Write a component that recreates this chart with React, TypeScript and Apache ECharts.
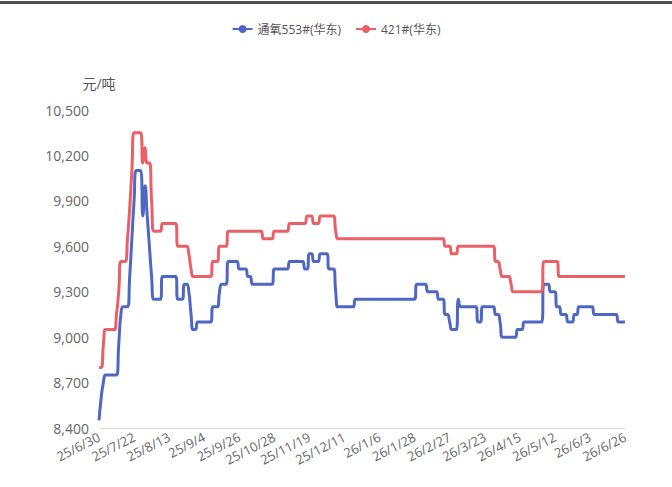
import React, { useEffect, useRef } from "react";
import * as echarts from "echarts";

const seriesNames = ["通氧553#(华东)", "421#(华东)"];

// trading-day calendar used for the category axis
const startDate = "2025-06-30";
const endDate = "2026-06-26";
const holidays = [
  "2025-10-01", "2025-10-02", "2025-10-03", "2025-10-06", "2025-10-07", "2025-10-08",
  "2026-01-01", "2026-01-02",
  "2026-02-16", "2026-02-17", "2026-02-18", "2026-02-19", "2026-02-20", "2026-02-23",
  "2026-04-06",
  "2026-05-01", "2026-05-04", "2026-05-05",
  "2026-06-19",
];

function buildCategories(): string[] {
  const out: string[] = [];
  const d = new Date(startDate + "T00:00:00Z");
  const end = new Date(endDate + "T00:00:00Z");
  while (d <= end) {
    const dow = d.getUTCDay();
    const iso = d.toISOString().slice(0, 10);
    if (dow !== 0 && dow !== 6 && holidays.indexOf(iso) < 0) {
      out.push(`${String(d.getUTCFullYear()).slice(2)}/${d.getUTCMonth() + 1}/${d.getUTCDate()}`);
    }
    d.setUTCDate(d.getUTCDate() + 1);
  }
  return out;
}
const categories = buildCategories();

const oxy553 = [
  8450, 8600, 8700, 8750, 8750, 8750, 8750, 8750, 8750, 8950,
  9150, 9200, 9200, 9200, 9400, 9650, 9900, 10100, 10100, 10100,
  9800, 10000, 9800, 9600, 9400, 9250, 9250, 9250, 9250, 9400,
  9400, 9400, 9400, 9400, 9400, 9400, 9250, 9250, 9250, 9350,
  9350, 9300, 9150, 9050, 9050, 9100, 9100, 9100, 9100, 9100,
  9100, 9100, 9200, 9200, 9200, 9300, 9350, 9350, 9350, 9500,
  9500, 9500, 9500, 9500, 9450, 9450, 9450, 9450, 9400, 9400,
  9350, 9350, 9350, 9350, 9350, 9350, 9350, 9350, 9350, 9350,
  9450, 9450, 9450, 9450, 9450, 9450, 9450, 9500, 9500, 9500,
  9500, 9500, 9500, 9500, 9450, 9450, 9550, 9550, 9500, 9500,
  9500, 9550, 9550, 9550, 9550, 9450, 9450, 9450, 9300, 9200,
  9200, 9200, 9200, 9200, 9200, 9200, 9200, 9250, 9250, 9250,
  9250, 9250, 9250, 9250, 9250, 9250, 9250, 9250, 9250, 9250,
  9250, 9250, 9250, 9250, 9250, 9250, 9250, 9250, 9250, 9250,
  9250, 9250, 9250, 9250, 9250, 9350, 9350, 9350, 9350, 9350,
  9300, 9300, 9300, 9300, 9300, 9250, 9250, 9250, 9150, 9150,
  9100, 9050, 9050, 9050, 9250, 9200, 9200, 9200, 9200, 9200,
  9200, 9200, 9200, 9100, 9100, 9200, 9200, 9200, 9200, 9200,
  9200, 9150, 9150, 9100, 9000, 9000, 9000, 9000, 9000, 9000,
  9000, 9050, 9050, 9050, 9100, 9100, 9100, 9100, 9100, 9100,
  9100, 9100, 9100, 9350, 9350, 9350, 9300, 9300, 9300, 9200,
  9200, 9150, 9150, 9150, 9100, 9100, 9100, 9150, 9150, 9200,
  9200, 9200, 9200, 9200, 9200, 9200, 9150, 9150, 9150, 9150,
  9150, 9150, 9150, 9150, 9150, 9150, 9150, 9100, 9100, 9100,
  9100,
];

const grade421 = [
  8800, 8800, 8950, 9050, 9050, 9050, 9050, 9050, 9150, 9300,
  9500, 9500, 9500, 9650, 9850, 10100, 10350, 10350, 10350, 10350,
  10150, 10250, 10150, 10150, 9900, 9700, 9700, 9700, 9700, 9750,
  9750, 9750, 9750, 9750, 9750, 9750, 9600, 9600, 9600, 9600,
  9600, 9550, 9450, 9400, 9400, 9400, 9400, 9400, 9400, 9400,
  9400, 9400, 9500, 9500, 9500, 9600, 9600, 9600, 9600, 9700,
  9700, 9700, 9700, 9700, 9700, 9700, 9700, 9700, 9700, 9700,
  9700, 9700, 9700, 9700, 9700, 9650, 9650, 9650, 9650, 9650,
  9700, 9700, 9700, 9700, 9700, 9700, 9700, 9750, 9750, 9750,
  9750, 9750, 9750, 9750, 9750, 9800, 9800, 9800, 9750, 9750,
  9750, 9800, 9800, 9800, 9800, 9800, 9800, 9800, 9700, 9650,
  9650, 9650, 9650, 9650, 9650, 9650, 9650, 9650, 9650, 9650,
  9650, 9650, 9650, 9650, 9650, 9650, 9650, 9650, 9650, 9650,
  9650, 9650, 9650, 9650, 9650, 9650, 9650, 9650, 9650, 9650,
  9650, 9650, 9650, 9650, 9650, 9650, 9650, 9650, 9650, 9650,
  9650, 9650, 9650, 9650, 9650, 9650, 9650, 9650, 9600, 9600,
  9600, 9550, 9550, 9550, 9600, 9600, 9600, 9600, 9600, 9600,
  9600, 9600, 9600, 9600, 9600, 9600, 9600, 9600, 9600, 9600,
  9600, 9500, 9500, 9450, 9400, 9400, 9400, 9400, 9350, 9300,
  9300, 9300, 9300, 9300, 9300, 9300, 9300, 9300, 9300, 9300,
  9300, 9300, 9300, 9500, 9500, 9500, 9500, 9500, 9500, 9500,
  9400, 9400, 9400, 9400, 9400, 9400, 9400, 9400, 9400, 9400,
  9400, 9400, 9400, 9400, 9400, 9400, 9400, 9400, 9400, 9400,
  9400, 9400, 9400, 9400, 9400, 9400, 9400, 9400, 9400, 9400,
  9400,
];

const yMin = 8400;
const yMax = 10500;
const yInterval = 300;
const yUnit = "元/吨";

const colors = ["#4f67c4", "#eb5f66"];

export default function App() {
  const ref = useRef<HTMLDivElement>(null);
  useEffect(() => {
    document.body.style.margin = "0";
    const chart = echarts.init(ref.current!, null, { renderer: "svg" });
    chart.setOption({
      animation: false,
      backgroundColor: "#ffffff",
      color: colors,
      textStyle: { fontFamily: "'Open Sans', 'Noto Sans CJK SC', sans-serif" },
      graphic: [
        {
          type: "rect",
          left: 0,
          top: 1,
          shape: { width: 672, height: 3 },
          style: { fill: "#505050" },
        },
      ],
      legend: {
        top: 18,
        left: "center",
        itemWidth: 20,
        itemHeight: 10,
        itemGap: 14,
        textStyle: { color: "#555", fontSize: 12 },
        data: seriesNames,
      },
      grid: { left: 99, right: 47, top: 110, bottom: 59, containLabel: false },
      xAxis: {
        type: "category",
        boundaryGap: false,
        data: categories,
        axisLine: { lineStyle: { color: "#dcdcdc" } },
        axisTick: { show: false },
        axisLabel: {
          interval: 15,
          rotate: 27,
          color: "#666",
          fontSize: 13,
          margin: 8,
        },
        splitLine: { show: false },
      },
      yAxis: {
        type: "value",
        min: yMin,
        max: yMax,
        interval: yInterval,
        name: yUnit,
        nameLocation: "end",
        nameGap: 20,
        nameTextStyle: { color: "#555", fontSize: 14, align: "center" },
        axisLine: { show: false },
        axisTick: { show: false },
        splitLine: { show: false },
        axisLabel: {
          color: "#666",
          fontSize: 14,
          margin: 10,
          formatter: (v: number) => v.toLocaleString("en-US"),
        },
      },
      series: [
        {
          name: seriesNames[0],
          type: "line",
          data: oxy553,
          smooth: 0.55,
          showSymbol: false,
          symbol: "circle",
          symbolSize: 6,
          lineStyle: { width: 3, color: colors[0] },
          itemStyle: { color: colors[0] },
        },
        {
          name: seriesNames[1],
          type: "line",
          data: grade421,
          smooth: 0.55,
          showSymbol: false,
          symbol: "circle",
          symbolSize: 6,
          lineStyle: { width: 3, color: colors[1] },
          itemStyle: { color: colors[1] },
        },
      ],
    });
    return () => chart.dispose();
  }, []);
  return <div ref={ref} style={{ width: 672, height: 487 }} />;
}
